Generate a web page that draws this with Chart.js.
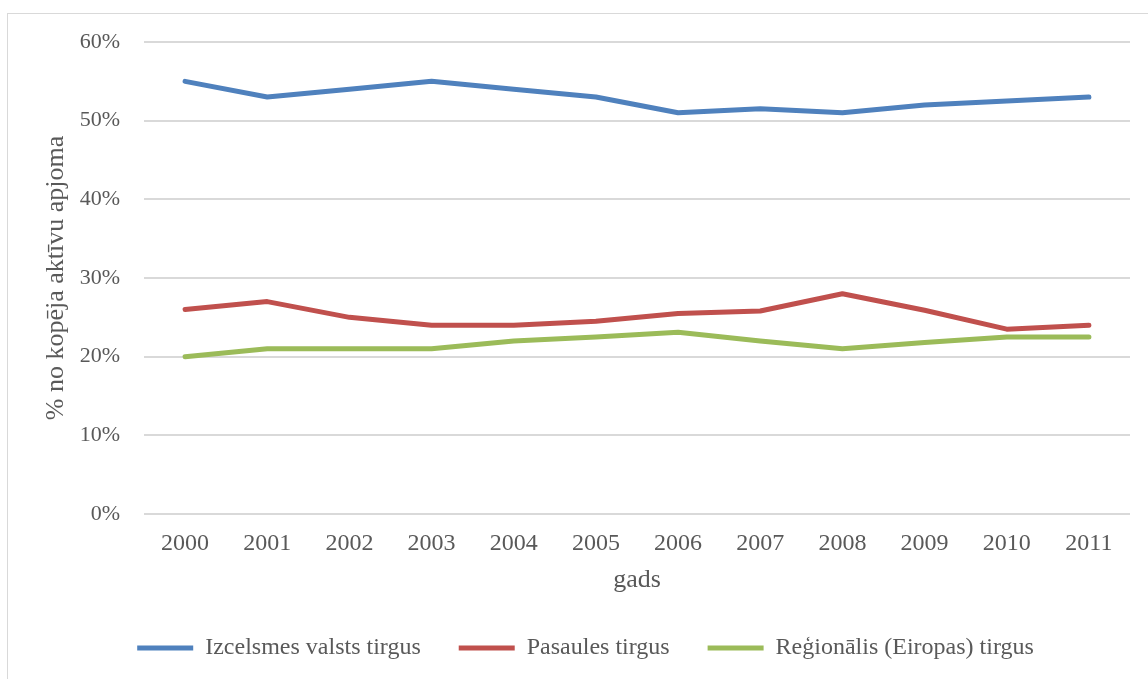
<!DOCTYPE html>
<html lang="lv">
<head>
<meta charset="utf-8">
<title>Aktīvu sadalījums pa tirgiem</title>
<script src="https://cdn.jsdelivr.net/npm/chart.js@4/dist/chart.umd.min.js"></script>
<style>
  html, body { margin: 0; padding: 0; background: #fff; }
  #wrap { position: relative; width: 1148px; height: 679px; overflow: hidden; }
  #frame { position: absolute; left: 7px; top: 13px; width: 1170px; height: 720px;
           border: 1px solid #d9d9d9; box-sizing: border-box; pointer-events: none; }
  #c { position: absolute; left: 0; top: 0; }
</style>
</head>
<body>
<div id="wrap">
  <div id="frame"></div>
  <canvas id="c" width="1148" height="679"></canvas>
</div>
<script>
// Years on the horizontal axis
const years = ['2000', '2001', '2002', '2003', '2004', '2005',
               '2006', '2007', '2008', '2009', '2010', '2011'];

// Share of total asset volume, percent
const izcelsmesValsts = [55, 53, 54, 55, 54, 53, 51, 51.5, 51, 52, 52.5, 53];
const pasaules        = [26, 27, 25, 24, 24, 24.5, 25.5, 25.8, 28, 25.9, 23.5, 24];
const regionalais     = [20, 21, 21, 21, 22, 22.5, 23.1, 22, 21, 21.8, 22.5, 22.5];

const seriesNames = ['Izcelsmes valsts tirgus', 'Pasaules tirgus', 'Reģionālis (Eiropas) tirgus'];

// Percent axis: 0 … 60 in steps of 10
const yMin = 0, yMax = 60, yStep = 10;

const yAxisTitle = '% no kopēja aktīvu apjoma';
const xAxisTitle = 'gads';

const textColor = '#595959';
const gridColor = '#d9d9d9';
const serif = "'Liberation Serif', 'Times New Roman', serif";

function line(label, data, color) {
  return {
    label, data,
    borderColor: color,
    backgroundColor: color,
    borderWidth: 5,
    borderCapStyle: 'round',
    borderJoinStyle: 'round',
    pointRadius: 0,
    pointHoverRadius: 0,
    tension: 0,
    fill: false
  };
}

new Chart(document.getElementById('c'), {
  type: 'line',
  data: {
    labels: years,
    datasets: [
      line(seriesNames[0], izcelsmesValsts, '#4f81bd'),
      line(seriesNames[1], pasaules, '#c0504d'),
      line(seriesNames[2], regionalais, '#9bbb59')
    ]
  },
  options: {
    responsive: false,
    animation: false,
    devicePixelRatio: 1,
    layout: { padding: { left: 41, right: 18, top: 42, bottom: 9 } },
    plugins: {
      tooltip: { enabled: false },
      legend: {
        position: 'bottom',
        labels: {
          color: textColor,
          font: { family: serif, size: 24 },
          boxWidth: 56,
          boxHeight: 5,
          padding: 38,
          generateLabels(chart) {
            return chart.data.datasets.map((ds, i) => ({
              text: ds.label,
              fillStyle: ds.borderColor,
              strokeStyle: ds.borderColor,
              lineWidth: 0,
              fontColor: textColor,
              datasetIndex: i,
              hidden: false
            }));
          }
        }
      }
    },
    scales: {
      x: {
        offset: true,
        grid: { display: false, drawTicks: false },
        border: { display: false },
        ticks: { color: textColor, font: { family: serif, size: 24 }, padding: 15, maxRotation: 0 },
        title: { display: true, text: xAxisTitle, color: textColor,
                 font: { family: serif, size: 26 }, padding: { top: 0, bottom: 2 } },
        afterFit(scale) { scale.height = 84; }
      },
      y: {
        min: yMin, max: yMax,
        grid: { color: gridColor, lineWidth: 2, drawTicks: false },
        border: { display: false },
        ticks: {
          stepSize: yStep,
          color: textColor,
          font: { family: serif, size: 22 },
          padding: 24,
          callback: v => v + '%'
        },
        title: { display: true, text: yAxisTitle, color: textColor,
                 font: { family: serif, size: 26 }, padding: 0 },
        afterFit(scale) { scale.width = 103; }
      }
    }
  }
});
</script>
</body>
</html>
